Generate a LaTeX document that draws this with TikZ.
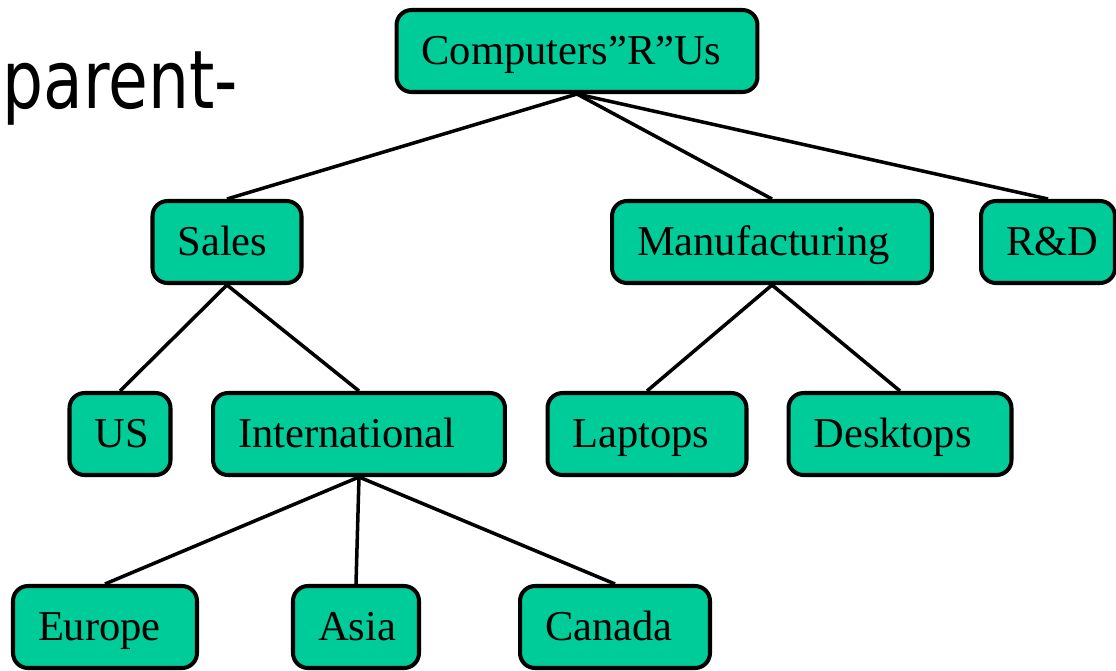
\documentclass[tikz,border=0pt]{standalone}
\usepackage{fontspec}
\setmainfont{Liberation Serif}
\newfontfamily\parentfont[FakeStretch=0.8]{DejaVu Sans}
\definecolor{boxgreen}{HTML}{00CC99}
\tikzset{
    orgbox/.style={draw, fill=boxgreen, line width=2.3pt, rounded corners=0.3cm,
        minimum height=1.64cm, inner xsep=0.5cm, text width=#1, align=left,
        text height=0.6cm, text depth=0.08cm,
        font=\fontsize{24.2}{28}\selectfont},
    link/.style={line width=2pt}
}
\begin{document}
\begin{tikzpicture}[x=0.02cm, y=-0.02cm]
            \useasboundingbox (0,0) rectangle (1116,670);
            \draw (2,108) node[anchor=base west, inner sep=0pt, font=\parentfont\fontsize{46}{50}\selectfont] (title) {parent-};

            \draw (577, 51) node[orgbox=6.22cm] (comp) {Computers”R”Us};
            \draw (227, 242) node[orgbox=1.98cm] (sales) {Sales};
            \draw (772, 242) node[orgbox=5.4cm] (manu) {Manufacturing};
            \draw (1048, 242) node[orgbox=1.68cm] (rnd) {R\&D};
            \draw (120, 434) node[orgbox=1.02cm] (us) {US};
            \draw (359, 434) node[orgbox=4.84cm] (intl) {International};
            \draw (647, 434) node[orgbox=2.98cm] (lap) {Laptops};
            \draw (900, 434) node[orgbox=3.46cm] (desk) {Desktops};
            \draw (105, 627) node[orgbox=2.68cm] (eur) {Europe};
            \draw (356, 627) node[orgbox=1.52cm] (asia) {Asia};
            \draw (615, 627) node[orgbox=2.8cm] (can) {Canada};

            \draw[link] (comp.south) -- (sales.north);
            \draw[link] (comp.south) -- (manu.north);
            \draw[link] (comp.south) -- (rnd.north);
            \draw[link] (sales.south) -- (us.north);
            \draw[link] (sales.south) -- (intl.north);
            \draw[link] (manu.south) -- (lap.north);
            \draw[link] (manu.south) -- (desk.north);
            \draw[link] (intl.south) -- (eur.north);
            \draw[link] (intl.south) -- (asia.north);
            \draw[link] (intl.south) -- (can.north);
        \end{tikzpicture}
\end{document}
